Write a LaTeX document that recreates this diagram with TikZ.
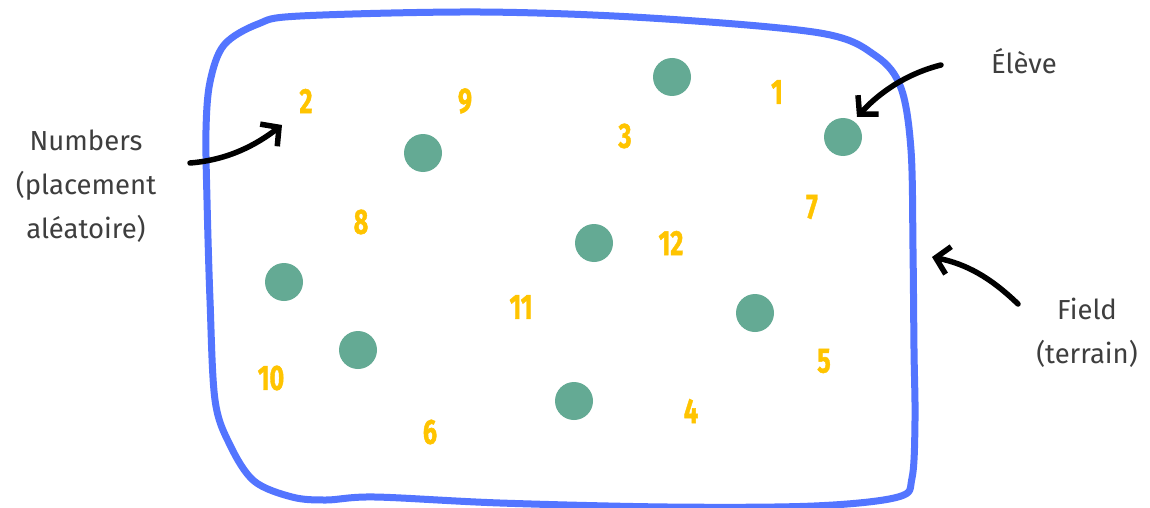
\documentclass[tikz,border=0pt]{standalone}
\usepackage{fontspec}
\setmainfont{Fira Sans}
\newfontfamily\numfont[FakeBold=1.5]{Fira Sans}
\usetikzlibrary{arrows.meta}
\definecolor{fieldblue}{RGB}{83,117,255}
\definecolor{dotgreen}{RGB}{100,170,148}
\definecolor{numyellow}{RGB}{255,196,0}
\definecolor{labelgray}{RGB}{62,62,62}
\newcommand{\numtxt}[1]{\scalebox{0.72}[1]{\bfseries #1}}
\begin{document}
\begin{tikzpicture}[x=1pt,y=-1pt,
  dotnode/.style={circle, fill=dotgreen, minimum size=38pt, inner sep=0pt},
  numnode/.style={text=numyellow, font=\numfont\fontsize{35}{35}\selectfont, inner sep=0pt},
  lblnode/.style={text=labelgray, font=\fontsize{27.5}{44}\selectfont, align=center, inner sep=0pt},
  pointer/.style={line width=5.5pt, line cap=round, line join=round,
    -{Straight Barb[length=13pt, width=28pt, line width=5.5pt]}},
  fieldline/.style={draw=fieldblue, line width=7pt, line join=round}
]
\useasboundingbox (0,0) rectangle (1150,508);
\fill[white] (0,0) rectangle (1150,508);

% field outline
\draw[fieldline] plot[smooth cycle, tension=0.55] coordinates {
  (300,16) (480,12) (650,18) (820,33) (876,56) (901,88) (911,150)
  (913,250) (914,350) (915,420) (912,478) (898,497) (814,506) (668,507)
  (500,503) (375,497) (326,500) (292,497) (254,481) (230,445) (215,400)
  (210,300) (207,200) (206,130) (210,82) (224,45) (258,24)};

% students
\node[dotnode] (d1) at (672,77) {};
\node[dotnode] (d2) at (843,137) {};
\node[dotnode] (d3) at (423,153) {};
\node[dotnode] (d4) at (594,243) {};
\node[dotnode] (d5) at (284,282) {};
\node[dotnode] (d6) at (755,313) {};
\node[dotnode] (d7) at (358,350) {};
\node[dotnode] (d8) at (574,401) {};

% numbers
\node[numnode] (n2) at (306,101) {\numtxt{2}};
\node[numnode] (n9) at (465,101) {\numtxt{9}};
\node[numnode] (n1) at (777,92) {\numtxt{1}};
\node[numnode] (n3) at (625,136) {\numtxt{3}};
\node[numnode] (n7) at (812,207) {\numtxt{7}};
\node[numnode] (n8) at (361,222) {\numtxt{8}};
\node[numnode] (n12) at (671,243) {\numtxt{12}};
\node[numnode] (n11) at (521,307) {\numtxt{11}};
\node[numnode] (n5) at (824,361) {\numtxt{5}};
\node[numnode] (n10) at (271,378) {\numtxt{10}};
\node[numnode] (n4) at (691,411) {\numtxt{4}};
\node[numnode] (n6) at (430,432) {\numtxt{6}};

% labels
\node[lblnode] (lnum) at (86,186) {Numbers\\(placement\\aléatoire)};
\node[lblnode] (leleve) at (1024,61) {Élève};
\node[lblnode] (lfield) at (1087,333) {Field\\(terrain)};

% arrow end points
\coordinate (a1s) at (190,163);
\coordinate (a1e) at (282,125);
\coordinate (a2s) at (941,65);
\coordinate (a2e) at (857,117);
\coordinate (a3s) at (1018,304);
\coordinate (a3e) at (932,257);

\draw[pointer] (a1s) .. controls (228,160) and (256,145) .. (a1e);
\draw[pointer] (a2s) .. controls (905,74) and (878,94) .. (a2e);
\draw[pointer] (a3s) .. controls (990,277) and (966,264) .. (a3e);
\end{tikzpicture}
\end{document}
